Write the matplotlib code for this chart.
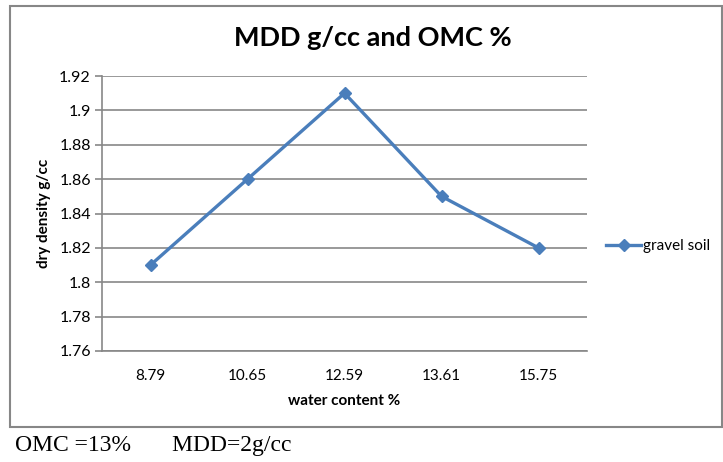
import matplotlib.pyplot as plt
from matplotlib.patches import Rectangle

water_content = ["8.79", "10.65", "12.59", "13.61", "15.75"]
dry_density = [1.81, 1.86, 1.91, 1.85, 1.82]
y_ticks = [1.76, 1.78, 1.80, 1.82, 1.84, 1.86, 1.88, 1.90, 1.92]
y_labels = ["1.76", "1.78", "1.8", "1.82", "1.84", "1.86", "1.88", "1.9", "1.92"]

plt.rcParams['font.family'] = ['Lato', 'DejaVu Sans']

W, H = 723, 462
fig = plt.figure(figsize=(W / 100, H / 100), dpi=100)

# chart frame
fig.patches.append(Rectangle((10 / W, 1 - 427 / H), 712 / W, 421 / H,
                             transform=fig.transFigure, fill=False,
                             edgecolor='#878787', linewidth=1.5))

ax = fig.add_axes([102 / W, 1 - 351 / H, 485 / W, 275 / H])
x = list(range(len(water_content)))
ax.plot(x, dry_density, color='#4A7EBB', linewidth=2.4, marker='D',
        markersize=6, label='gravel soil')

ax.set_xlim(-0.5, len(water_content) - 0.5)
ax.set_ylim(1.76, 1.92)
ax.set_yticks(y_ticks)
ax.set_yticklabels(y_labels)
ax.set_xticks(x)
ax.set_xticklabels(water_content)
ax.tick_params(axis='x', length=0, pad=13, labelsize=11)
ax.tick_params(axis='y', length=5, width=1.2, color='#878787', pad=3, labelsize=11.5)
ax.grid(axis='y', color='#878787', linewidth=1.2)
ax.set_axisbelow(True)
for side in ['top', 'right']:
    ax.spines[side].set_visible(False)
for side in ['left', 'bottom']:
    ax.spines[side].set_color('#878787')
    ax.spines[side].set_linewidth(1.2)

ax.set_xlabel('water content %', fontsize=11, fontweight='bold', labelpad=8)
ax.set_ylabel('dry density g/cc', fontsize=11, fontweight='bold', labelpad=6)
fig.text(373 / W, 1 - 38 / H, 'MDD g/cc and OMC %', ha='center', va='center',
         fontsize=19.5, fontweight='bold')

ax.legend(loc='center left', bbox_to_anchor=(600 / W, 1 - 246 / H),
          bbox_transform=fig.transFigure, frameon=False, fontsize=11,
          handlelength=2.3, handletextpad=0.1, borderaxespad=0)

fig.text(15 / W, 1 - 445 / H, 'OMC =13%       MDD=2g/cc', ha='left', va='center',
         fontsize=17, family='Liberation Serif')

fig.savefig('out.png', dpi=100)
